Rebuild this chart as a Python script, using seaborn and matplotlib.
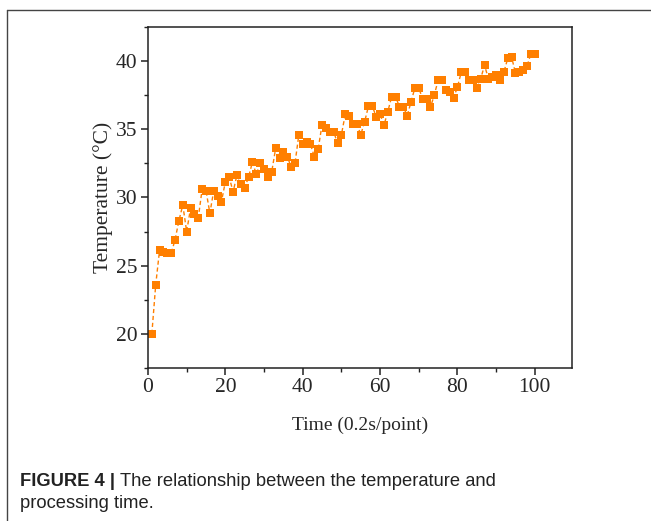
import numpy as np
import pandas as pd

import matplotlib.pyplot as plt
from matplotlib.lines import Line2D
from matplotlib.ticker import MultipleLocator

import seaborn as sns

# time index (0.2 s per point)
time_points = list(range(1, 101))

# temperature readings in degC
temperature = [
    20.0, 23.6, 26.15, 26.0, 25.9, 25.9, 26.9, 28.3, 29.45, 27.5,
    29.2, 28.8, 28.5, 30.6, 30.5, 28.85, 30.5, 30.1, 29.7, 31.15,
    31.5, 30.4, 31.65, 31.0, 30.7, 31.5, 32.6, 31.7, 32.5, 32.1,
    31.5, 31.9, 33.6, 32.9, 33.35, 33.0, 32.25, 32.5, 34.6, 33.9,
    34.1, 33.9, 33.0, 33.55, 35.35, 35.1, 34.8, 34.8, 34.0, 34.6,
    36.1, 36.0, 35.4, 35.4, 34.6, 35.55, 36.7, 36.7, 35.9, 36.1,
    35.3, 36.3, 37.4, 37.4, 36.65, 36.65, 36.0, 37.0, 38.05, 38.05,
    37.2, 37.25, 36.6, 37.5, 38.6, 38.6, 37.9, 37.7, 37.3, 38.1,
    39.2, 39.2, 38.6, 38.65, 38.0, 38.7, 39.7, 38.7, 38.85, 38.95,
    38.6, 39.2, 40.2, 40.3, 39.1, 39.2, 39.35, 39.65, 40.55, 40.55,
]

df = pd.DataFrame({"time": time_points, "temp": temperature})

sns.set_theme(style="ticks")
plt.rcParams["font.family"] = ["Liberation Serif", "DejaVu Serif"]

fig = plt.figure(figsize=(6.51, 5.21), dpi=100)
ax = fig.add_axes([0.2273, 0.2937, 0.6513, 0.6545])

sns.lineplot(
    data=df,
    x="time",
    y="temp",
    ax=ax,
    color="#FF7F00",
    linestyle=(0, (3, 2)),
    linewidth=1.0,
    marker="s",
    markersize=6.3,
    markeredgewidth=0,
)

ax.set_xlim(0, 109.6)
ax.set_ylim(17.5, 42.5)
ax.xaxis.set_major_locator(MultipleLocator(20))
ax.xaxis.set_minor_locator(MultipleLocator(10))
ax.yaxis.set_major_locator(MultipleLocator(5))
ax.yaxis.set_minor_locator(MultipleLocator(2.5))
ax.tick_params(axis="both", which="major", direction="out", length=5,
               width=1.1, labelsize=15.5, color="#222222", pad=2.5)
ax.tick_params(axis="both", which="minor", direction="out", length=3,
               width=1.0, color="#222222")

for side in ["top", "right", "left", "bottom"]:
    ax.spines[side].set_visible(True)
    ax.spines[side].set_linewidth(1.1)
    ax.spines[side].set_color("#222222")

ax.set_xlabel("Time (0.2s/point)", fontsize=14, labelpad=14)
ax.set_ylabel("Temperature (\u00b0C)", fontsize=15.5, labelpad=2)

# outer frame of the figure panel
frame_color = "#444444"
fig.add_artist(Line2D([7 / 651, 1.0], [1 - 10 / 521, 1 - 10 / 521],
                      color=frame_color, linewidth=1.0))
fig.add_artist(Line2D([7 / 651, 7 / 651], [0.0, 1 - 10 / 521],
                      color=frame_color, linewidth=1.0))

# caption
cap_font = ["Liberation Sans", "DejaVu Sans"]
t1 = fig.text(20 / 651, 1 - 481 / 521, "FIGURE 4 | ", fontsize=13.2,
              fontweight="bold", family=cap_font, va="center", color="#222222")
fig.canvas.draw()
bb = t1.get_window_extent()
fig.text(bb.x1 / fig.bbox.width, 1 - 481 / 521,
         "The relationship between the temperature and",
         fontsize=13.2, family=cap_font, va="center", color="#222222")
fig.text(20 / 651, 1 - 504 / 521, "processing time.", fontsize=13.2,
         family=cap_font, va="center", color="#222222")

fig.savefig("out.png", dpi=100)
